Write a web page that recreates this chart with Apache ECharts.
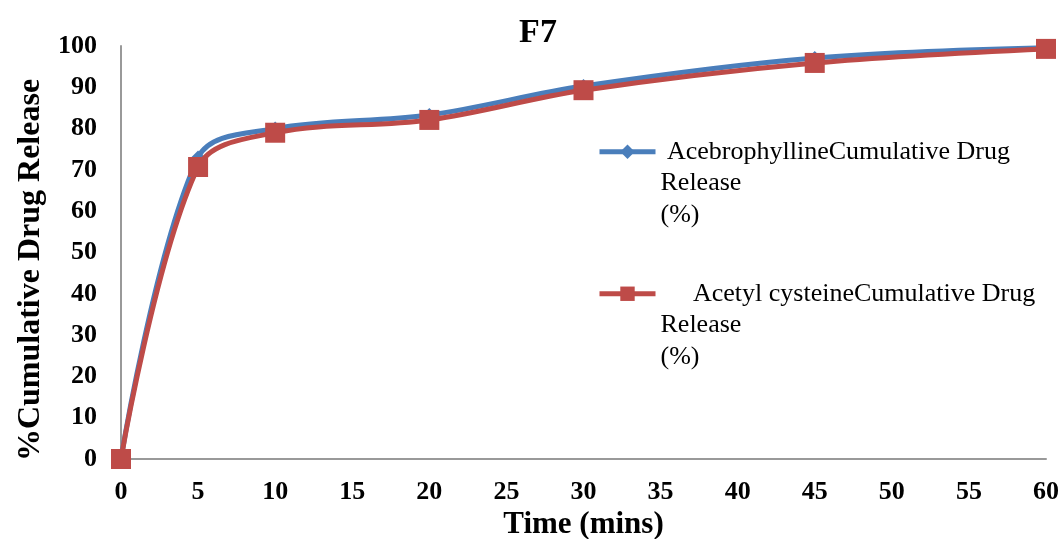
<!DOCTYPE html>
<html>
<head>
<meta charset="utf-8">
<title>F7</title>
<script src="https://cdn.jsdelivr.net/npm/echarts@6/dist/echarts.min.js"></script>
<style>
  html, body { margin: 0; padding: 0; background: #fff; }
  #chart { width: 1063px; height: 539px; }
</style>
</head>
<body>
<div id="chart"></div>
<script>
// Sampling times (minutes) and cumulative release (%) for formulation F7
const timeMins = [0, 5, 10, 20, 30, 45, 60];
const acebrophylline = [0, 73, 80, 83.3, 90.3, 97.1, 99.6];
const acetylCysteine = [0, 70.7, 79, 82.1, 89.3, 95.9, 99.3];
const seriesNames = [
  'AcebrophyllineCumulative Drug Release (%)',
  'Acetyl cysteineCumulative Drug Release (%)'
];

const serif = '"Liberation Serif", "Times New Roman", serif';
const blue = '#4a7ebb';
const red = '#be4b48';

const toPairs = (ys) => timeMins.map((t, i) => [t, ys[i]]);

const chart = echarts.init(document.getElementById('chart'), null, { renderer: 'canvas' });

// Legend labels wrap over three lines; two leading blank lines keep the
// first line level with the legend icon.
const legendText = {
  [seriesNames[0]]: '\n\n\u00a0AcebrophyllineCumulative Drug\nRelease\n(%)',
  [seriesNames[1]]: '\n\n\u00a0\u00a0\u00a0\u00a0\u00a0Acetyl cysteineCumulative Drug\nRelease\n(%)'
};

const legendBase = {
  orient: 'vertical',
  itemWidth: 56,
  itemHeight: 18,
  itemGap: 0,
  lineStyle: { width: 5 },
  formatter: (name) => legendText[name],
  textStyle: { fontFamily: serif, fontSize: 26, color: '#000', lineHeight: 31.5 }
};

chart.setOption({
  animation: false,
  backgroundColor: '#fff',
  title: {
    text: 'F7',
    left: 533,
    top: 11,
    textAlign: 'center',
    textStyle: { fontFamily: serif, fontSize: 34, fontWeight: 'bold', color: '#000' }
  },
  legend: [
    Object.assign({}, legendBase, { data: [seriesNames[0]], left: 592, top: 68 }),
    Object.assign({}, legendBase, { data: [seriesNames[1]], left: 592, top: 210 })
  ],
  grid: {
    left: 121, right: 17, top: 46, bottom: 80,
    containLabel: false,
    outerBoundsMode: 'none'
  },
  xAxis: {
    type: 'value',
    min: 0,
    max: 60,
    interval: 5,
    name: 'Time (mins)',
    nameLocation: 'middle',
    nameGap: 48,
    nameTextStyle: { fontFamily: serif, fontSize: 31, fontWeight: 'bold', color: '#000' },
    axisLine: { show: true, lineStyle: { color: '#999999', width: 2 } },
    axisTick: { show: false },
    splitLine: { show: false },
    axisLabel: { fontFamily: serif, fontSize: 26, fontWeight: 'bold', color: '#000', margin: 20 }
  },
  yAxis: {
    type: 'value',
    min: 0,
    max: 100,
    interval: 10,
    name: '%Cumulative Drug Release',
    nameLocation: 'middle',
    nameRotate: 90,
    nameGap: 72,
    nameTextStyle: {
      fontFamily: serif, fontSize: 32, fontWeight: 'bold', color: '#000',
      padding: [0, 35, 0, 0]
    },
    axisLine: { show: true, lineStyle: { color: '#999999', width: 2 } },
    axisTick: { show: false },
    splitLine: { show: false },
    axisLabel: { fontFamily: serif, fontSize: 26, fontWeight: 'bold', color: '#000', margin: 24 }
  },
  series: [
    {
      name: seriesNames[0],
      type: 'line',
      data: toPairs(acebrophylline),
      smooth: 0.35,
      symbol: 'diamond',
      symbolSize: 14,
      lineStyle: { color: blue, width: 5 },
      itemStyle: { color: blue },
      z: 2
    },
    {
      name: seriesNames[1],
      type: 'line',
      data: toPairs(acetylCysteine),
      smooth: 0.35,
      symbol: 'rect',
      symbolSize: 20,
      lineStyle: { color: red, width: 5 },
      itemStyle: { color: red },
      z: 3
    }
  ]
});
</script>
</body>
</html>
